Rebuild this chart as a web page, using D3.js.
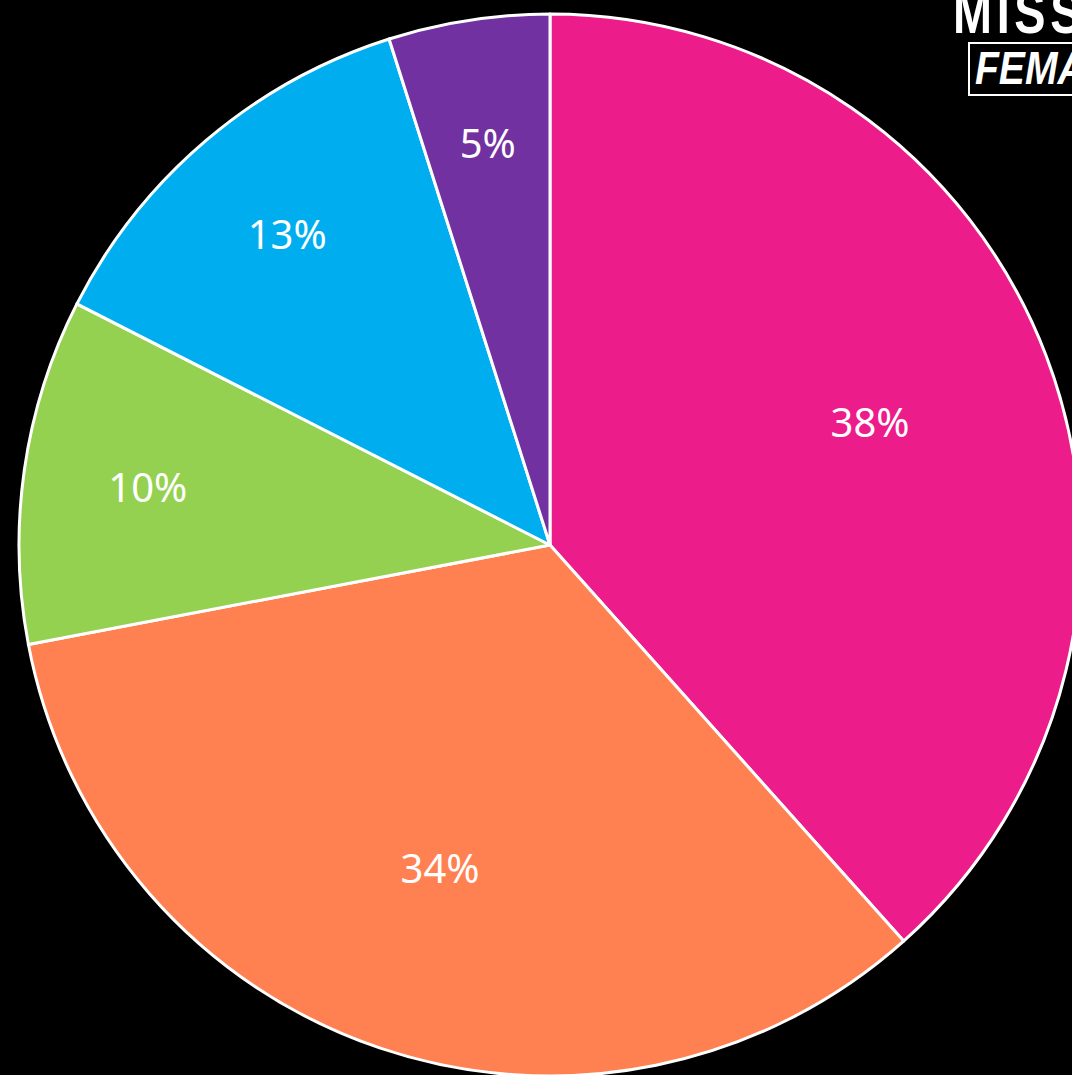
<!DOCTYPE html>
<html><head><meta charset="utf-8">
<script src="https://cdn.jsdelivr.net/npm/d3@7"></script>
<style>html,body{margin:0;padding:0;background:#000;overflow:hidden}</style>
</head><body>
<svg id="c" width="1072" height="1075"></svg>
<script>
const categories = ["A", "B", "C", "D", "E"];
const values = [38.4, 33.6, 10.5, 12.6, 4.9];
const labels = ["38%", "34%", "10%", "13%", "5%"];
const colors = ["#EC1C8A", "#FF8152", "#95D151", "#00AEEF", "#7231A0"];

const svg = d3.select("#c");
const cx = 550, cy = 545, r = 531;
const g = svg.append("g").attr("transform", `translate(${cx},${cy})`);
const pie = d3.pie().sort(null).value(d => d.v);
const data = pie(categories.map((c, i) => ({c, v: values[i], l: labels[i], col: colors[i]})));
const arc = d3.arc().innerRadius(0).outerRadius(r);
g.selectAll("path").data(data).join("path")
  .attr("d", arc).attr("fill", d => d.data.col)
  .attr("stroke", "#fff").attr("stroke-width", 3).attr("stroke-linejoin", "round");
// big slices get labels closer to the centre, small ones further out
const labelPos = d => {
  const span = d.endAngle - d.startAngle;
  const lr = span > Math.PI / 2 ? r * 0.645 : r * 0.765;
  return d3.arc().innerRadius(lr).outerRadius(lr).centroid(d);
};
g.selectAll("text").data(data).join("text")
  .attr("transform", d => `translate(${labelPos(d)})`)
  .attr("text-anchor", "middle").attr("dy", "0.35em")
  .attr("fill", "#fff").attr("font-family", "Noto Sans, sans-serif")
  .attr("font-size", 40).text(d => d.data.l);

// logo (partially cut)
const logo = svg.append("g");
logo.append("text").attr("transform", "translate(953,33) scale(0.78,1)")
  .attr("font-family", "Liberation Sans Narrow, sans-serif").attr("font-weight", "bold")
  .attr("font-size", 60).attr("fill", "#fff").attr("letter-spacing", 6).text("MISSION");
logo.append("rect").attr("x", 969).attr("y", 43).attr("width", 200).attr("height", 52)
  .attr("fill", "none").attr("stroke", "#fff").attr("stroke-width", 2);
logo.append("text").attr("transform", "translate(975,84) scale(0.85,1)")
  .attr("font-family", "Liberation Sans Narrow, sans-serif").attr("font-weight", "bold")
  .attr("font-style", "italic").attr("font-size", 46).attr("fill", "#fff").text("FEMALE");
</script>
</body></html>
